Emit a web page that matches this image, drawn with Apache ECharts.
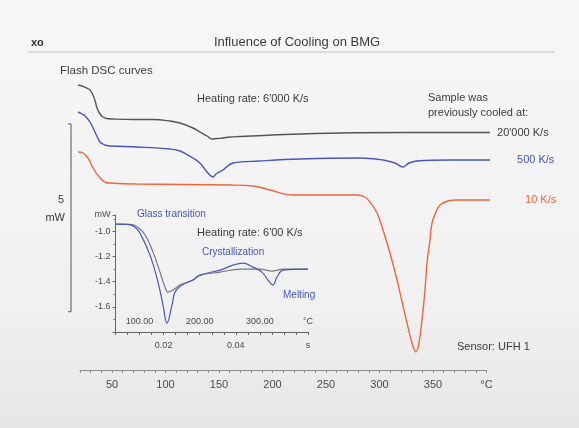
<!DOCTYPE html>
<html>
<head>
<meta charset="utf-8">
<script src="https://cdn.jsdelivr.net/npm/echarts@6/dist/echarts.min.js"></script>
<style>
html,body{margin:0;padding:0;background:#efefef}
#chart{width:579px;height:428px}
</style>
</head>
<body>
<div id="chart"></div>
<script>
// Flash DSC heating curves, heating rate 6'000 K/s.
// Temperature in °C, heat flow in mW (curves shifted vertically for display).
const fastTemp = [18.2, 22, 26, 29.4, 32.2, 34.5, 36.0, 38.8, 41.6, 45, 50.9, 70, 88.3, 104.2, 113.6, 125.7, 132.2, 138.8, 143.5, 148, 153.7, 160, 170, 200, 263.1, 330, 403.3];
const fastFlow = [7.585, 7.558, 7.505, 7.452, 7.319, 7.133, 6.973, 6.813, 6.733, 6.693, 6.680, 6.667, 6.667, 6.627, 6.573, 6.440, 6.333, 6.227, 6.147, 6.160, 6.174, 6.200, 6.214, 6.254, 6.307, 6.320, 6.320];

const midTemp = [18.2, 21.9, 24.8, 29.4, 34.1, 38.8, 43.5, 48.1, 73.4, 104.2, 113.6, 125.7, 132.2, 138.8, 142.5, 144.4, 147.2, 153.7, 163.1, 188.3, 225.7, 281.8, 303.3, 314.5, 322.0, 327.6, 335.0, 365.9, 403.3];
const midFlow = [6.866, 6.813, 6.760, 6.600, 6.334, 6.068, 5.988, 5.961, 5.935, 5.881, 5.828, 5.642, 5.509, 5.269, 5.163, 5.136, 5.216, 5.322, 5.509, 5.562, 5.615, 5.642, 5.588, 5.509, 5.402, 5.509, 5.562, 5.588, 5.588];

const slowTemp = [18.2, 22.9, 27.6, 32.2, 38.8, 43.5, 48.1, 73.4, 160.3, 181.8, 197.7, 219.2, 279.0, 286.4, 291.1, 297.7, 303.3, 309.8, 316.4, 321.1, 325.7, 330.4, 334.1, 336.9, 339.7, 342.5, 344.4, 347.2, 349.1, 352.8, 356.5, 364.0, 372.4, 403.3];
const slowFlow = [5.801, 5.775, 5.642, 5.376, 5.110, 5.003, 4.977, 4.950, 4.923, 4.897, 4.790, 4.657, 4.657, 4.604, 4.471, 4.178, 3.726, 3.114, 2.395, 1.810, 1.251, 0.719, 0.479, 0.719, 1.331, 2.129, 2.848, 3.460, 3.912, 4.205, 4.391, 4.497, 4.524, 4.524];

const seriesNames = ["20'000 K/s", "500 K/s", "10 K/s"];

// 5 mW scale bar
const scaleBarTemp = 11.7;
const scaleBarTickTemp = 8.9;
const scaleBarBottom = 1.55;
const scaleBarSpan = 5;

// Temperature axis ticks
const tempAxisMin = 20;
const tempAxisMax = 400;
const tempAxisStep = 10;
const tempLabelStep = 50;

// Inset: heat flow (mW) against time (s), heating rate 6'00 K/s
const insetTimeBlue = [0.00667, 0.0100, 0.0120, 0.01345, 0.01622, 0.01844, 0.01982, 0.02093, 0.02232, 0.02315, 0.02509, 0.02813, 0.03007, 0.03561, 0.03921, 0.04199, 0.04476, 0.04725, 0.04891, 0.05030, 0.05141, 0.05307, 0.0600];
const insetFlowBlue = [-0.943, -0.945, -0.965, -1.014, -1.189, -1.403, -1.586, -1.729, -1.586, -1.483, -1.427, -1.387, -1.348, -1.308, -1.268, -1.252, -1.284, -1.324, -1.387, -1.427, -1.363, -1.308, -1.300];
const insetTimeGray = [0.00667, 0.0107, 0.01428, 0.01706, 0.01899, 0.02038, 0.02121, 0.02259, 0.02453, 0.02813, 0.03007, 0.03561, 0.04115, 0.04670, 0.05002, 0.05307, 0.0600];
const insetFlowGray = [-0.943, -0.945, -1.006, -1.165, -1.324, -1.443, -1.483, -1.467, -1.427, -1.387, -1.348, -1.324, -1.300, -1.300, -1.316, -1.300, -1.300];
const insetTimeMin = 2 / 300;
const insetTimeMax = 0.06;
const insetTimeStep = 1 / 300;
const insetTimeLabels = { 6: '0.02', 12: '0.04', 18: 's' };
const insetTempMin = 60;
const insetTempMax = 380;
const insetTempStep = 20;
const insetTempLabels = [100, 200, 300];
const insetFlowMin = -1.8;
const insetFlowMax = -0.87;
const insetFlowStep = 0.2;

const zip = (xs, ys) => xs.map((x, i) => [x, ys[i]]);

const FONT = '"Liberation Sans", Arial, sans-serif';
const DARK = '#3b3b3b';
const BLUE = '#4656c0';
const RED = '#f0653a';
const GRAYLINE = '#555555';

const chart = echarts.init(document.getElementById('chart'), null, { renderer: 'canvas' });

function curve(name, data, color, labelDistance) {
  return {
    name: name,
    type: 'line',
    xAxisIndex: 1,
    yAxisIndex: 1,
    data: data,
    showSymbol: false,
    smooth: 0.4,
    lineStyle: { color: color, width: 1.4 },
    itemStyle: { color: color },
    endLabel: {
      show: true,
      formatter: name,
      distance: labelDistance,
      color: color === GRAYLINE ? DARK : color,
      fontSize: 11,
      fontFamily: FONT
    },
    silent: true
  };
}

function text(x, y, str, opts) {
  return {
    type: 'text',
    x: x,
    y: y,
    silent: true,
    style: Object.assign({
      text: str,
      fill: DARK,
      fontSize: 11,
      fontFamily: FONT,
      align: 'left',
      verticalAlign: 'middle'
    }, opts || {})
  };
}

const option = {
  animation: false,
  backgroundColor: {
    type: 'linear', x: 0, y: 0, x2: 0, y2: 1,
    colorStops: [
      { offset: 0, color: '#f7f7f7' },
      { offset: 0.7, color: '#f1f1f1' },
      { offset: 1, color: '#e6e6e6' }
    ]
  },
  grid: [
    // visible temperature axis
    { left: 79.9, top: 60, width: 406.6, height: 310, outerBoundsMode: 'none', containLabel: false },
    // DSC curves (same °C scale, wider span)
    { left: 58.5, top: 60, width: 449.4, height: 310, outerBoundsMode: 'none', containLabel: false },
    // inset
    { left: 115.5, top: 215, width: 192.5, height: 117, outerBoundsMode: 'none', containLabel: false }
  ],
  xAxis: [
    {
      gridIndex: 0, type: 'value', min: tempAxisMin, max: tempAxisMax, interval: tempAxisStep,
      axisLine: { show: true, lineStyle: { color: '#8c8c8c', width: 1 } },
      axisTick: { show: true, length: 3, lineStyle: { color: '#8c8c8c' } },
      splitLine: { show: false },
      axisLabel: {
        show: true, margin: 9, color: '#4a4a4a', fontSize: 11, fontFamily: FONT,
        showMinLabel: true, showMaxLabel: true, hideOverlap: false,
        formatter: function (v) {
          const r = Math.round(v);
          if (r === tempAxisMax) return '°C';
          if (r % tempLabelStep === 0 && r >= 50 && r <= 350) return String(r);
          return '';
        }
      }
    },
    { gridIndex: 1, type: 'value', min: 0, max: 420, show: false },
    {
      gridIndex: 2, type: 'value', position: 'bottom',
      min: insetTimeMin, max: insetTimeMax, interval: insetTimeStep,
      axisLine: { show: true, lineStyle: { color: '#666', width: 1 } },
      axisTick: { show: true, length: 3, lineStyle: { color: '#666' } },
      splitLine: { show: false },
      axisLabel: {
        show: true, margin: 9, color: '#4a4a4a', fontSize: 9, fontFamily: FONT,
        showMinLabel: true, showMaxLabel: true, hideOverlap: false,
        formatter: function (v) {
          const k = Math.round(v * 300);
          if (Math.abs(v * 300 - k) > 0.05) return '';
          return insetTimeLabels[k] || '';
        }
      }
    },
    {
      gridIndex: 2, type: 'value', position: 'bottom',
      min: insetTempMin, max: insetTempMax, interval: insetTempStep,
      axisLine: { show: false }, axisTick: { show: false }, splitLine: { show: false },
      axisLabel: {
        show: true, inside: true, margin: 6, color: '#4a4a4a', fontSize: 9, fontFamily: FONT,
        showMinLabel: true, showMaxLabel: true, hideOverlap: false,
        formatter: function (v) {
          const r = Math.round(v);
          if (r === insetTempMax) return '°C';
          return insetTempLabels.indexOf(r) >= 0 ? r.toFixed(2) : '';
        }
      }
    }
  ],
  yAxis: [
    { gridIndex: 0, type: 'value', min: 0, max: 1, show: false },
    { gridIndex: 1, type: 'value', min: 0, max: 8.25, show: false },
    {
      gridIndex: 2, type: 'value', min: insetFlowMin, max: insetFlowMax, interval: insetFlowStep,
      axisLine: { show: true, lineStyle: { color: '#666', width: 1 } },
      axisTick: { show: true, length: 3, lineStyle: { color: '#666' } },
      minorTick: { show: true, splitNumber: 2, length: 2, lineStyle: { color: '#777' } },
      splitLine: { show: false },
      axisLabel: {
        show: true, margin: 5, color: '#4a4a4a', fontSize: 9, fontFamily: FONT,
        showMinLabel: true, showMaxLabel: true, hideOverlap: false,
        formatter: function (v) {
          if (v > -0.9) return 'mW';
          if (v < -1.7) return '';
          return v.toFixed(1);
        }
      }
    }
  ],
  series: [
    curve(seriesNames[0], zip(fastTemp, fastFlow), GRAYLINE, 7),
    curve(seriesNames[1], zip(midTemp, midFlow), BLUE, 27),
    curve(seriesNames[2], zip(slowTemp, slowFlow), RED, 35),
    {
      name: 'scale',
      type: 'line',
      xAxisIndex: 1, yAxisIndex: 1,
      data: [
        [scaleBarTickTemp, scaleBarBottom + scaleBarSpan],
        [scaleBarTemp, scaleBarBottom + scaleBarSpan],
        [scaleBarTemp, scaleBarBottom],
        [scaleBarTickTemp, scaleBarBottom]
      ],
      showSymbol: false,
      lineStyle: { color: '#555', width: 1 },
      silent: true
    },
    {
      name: 'inset-gray',
      type: 'line',
      xAxisIndex: 2, yAxisIndex: 2,
      data: zip(insetTimeGray, insetFlowGray),
      showSymbol: false, smooth: 0.4,
      lineStyle: { color: '#777', width: 1.2 },
      silent: true
    },
    {
      name: 'inset-blue',
      type: 'line',
      xAxisIndex: 2, yAxisIndex: 2,
      data: zip(insetTimeBlue, insetFlowBlue),
      showSymbol: false, smooth: 0.4,
      lineStyle: { color: BLUE, width: 1.2 },
      silent: true
    }
  ],
  graphic: [
    text(31, 43, 'xo', { fontSize: 11, fontWeight: 'bold', fill: '#333' }),
    text(297, 42, 'Influence of Cooling on BMG', { fontSize: 13, align: 'center', fill: '#3a3a3a' }),
    {
      type: 'line', silent: true,
      shape: { x1: 28, y1: 52, x2: 555, y2: 52 },
      style: { stroke: '#c4c4c4', lineWidth: 1 }
    },
    text(60, 71, 'Flash DSC curves', { fontSize: 11.5 }),
    text(197, 99, "Heating rate: 6'000 K/s"),
    text(428, 98, 'Sample was'),
    text(428, 113, 'previously cooled at:'),
    text(61, 200, '5', { align: 'center' }),
    text(65, 218, 'mW', { align: 'right' }),
    text(457, 347, 'Sensor: UFH 1'),
    text(137, 214, 'Glass transition', { fill: BLUE, fontSize: 10 }),
    text(197, 233, "Heating rate: 6'00 K/s"),
    text(202, 252, 'Crystallization', { fill: BLUE, fontSize: 10 }),
    text(283, 295, 'Melting', { fill: BLUE, fontSize: 10 })
  ]
};

chart.setOption(option);
</script>
</body>
</html>
